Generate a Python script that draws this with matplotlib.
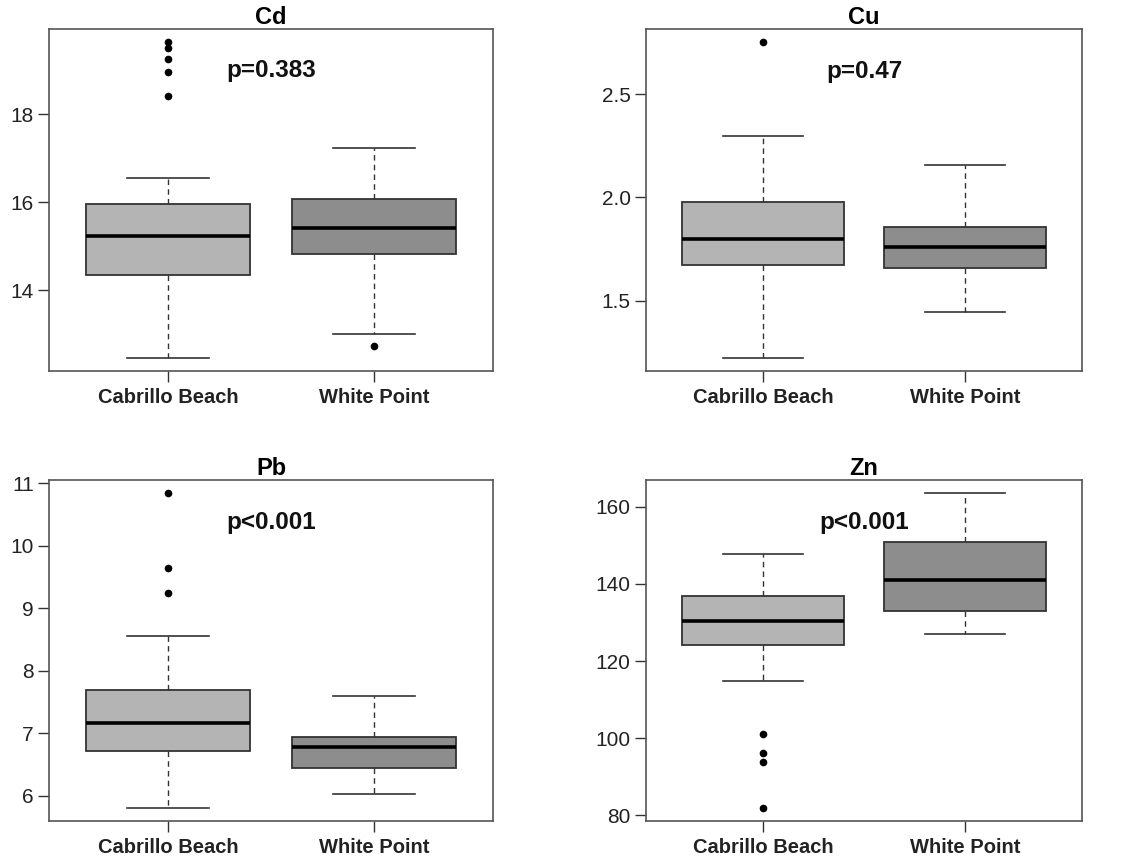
import matplotlib
matplotlib.use("Agg")
import matplotlib.pyplot as plt

plt.rcParams['font.family'] = ['Liberation Sans', 'DejaVu Sans']

groups = ["Cabrillo Beach", "White Point"]

# summary stats per metal: [whislo, q1, med, q3, whishi], outliers
cd_cab = [12.45, 14.35, 15.23, 15.95, 16.55]
cd_cab_out = [18.42, 18.95, 19.25, 19.5, 19.65]
cd_wp = [13.0, 14.82, 15.42, 16.07, 17.23]
cd_wp_out = [12.72]

cu_cab = [1.221, 1.674, 1.797, 1.977, 2.297]
cu_cab_out = [2.754]
cu_wp = [1.445, 1.658, 1.760, 1.859, 2.159]
cu_wp_out = []

pb_cab = [5.80, 6.72, 7.17, 7.70, 8.55]
pb_cab_out = [9.24, 9.64, 10.85]
pb_wp = [6.03, 6.45, 6.785, 6.94, 7.60]
pb_wp_out = []

zn_cab = [114.8, 124.2, 130.4, 136.9, 147.9]
zn_cab_out = [81.8, 93.9, 96.1, 101.1]
zn_wp = [127.0, 132.95, 141.0, 150.8, 163.7]
zn_wp_out = []

titles = ["Cd", "Cu", "Pb", "Zn"]
p_labels = ["p=0.383", "p=0.47", "p<0.001", "p<0.001"]
p_y = [19.0, 2.61, 10.37, 155.9]
yticks = [[14, 16, 18], [1.5, 2.0, 2.5], [6, 7, 8, 9, 10, 11], [80, 100, 120, 140, 160]]
ytick_labels = [["14", "16", "18"], ["1.5", "2.0", "2.5"],
                ["6", "7", "8", "9", "10", "11"], ["80", "100", "120", "140", "160"]]

data = [
    [(cd_cab, cd_cab_out), (cd_wp, cd_wp_out)],
    [(cu_cab, cu_cab_out), (cu_wp, cu_wp_out)],
    [(pb_cab, pb_cab_out), (pb_wp, pb_wp_out)],
    [(zn_cab, zn_cab_out), (zn_wp, zn_wp_out)],
]

box_colors = ["#b4b4b4", "#8d8d8d"]

W, H = 1131, 858
fig = plt.figure(figsize=(W / 100, H / 100), dpi=100)

rects = [
    (49, 29, 493, 371),
    (646, 29, 1082, 371),
    (49, 480, 493, 821),
    (646, 480, 1082, 821),
]

edge = "#333333"
for i, (x0, y0, x1, y1) in enumerate(rects):
    ax = fig.add_axes([x0 / W, 1 - y1 / H, (x1 - x0) / W, (y1 - y0) / H])
    stats = []
    allv = []
    for (s, out), lab in zip(data[i], groups):
        stats.append(dict(whislo=s[0], q1=s[1], med=s[2], q3=s[3], whishi=s[4],
                          fliers=out, label=lab))
        allv += s + out
    bp = ax.bxp(stats, positions=[1, 2], widths=0.8, capwidths=0.4,
                patch_artist=True, showfliers=True,
                boxprops=dict(edgecolor=edge, linewidth=1.3),
                medianprops=dict(color="black", linewidth=2.6, solid_capstyle="butt"),
                whiskerprops=dict(color=edge, linewidth=1.0, linestyle=(0, (4, 3))),
                capprops=dict(color=edge, linewidth=1.2),
                flierprops=dict(marker="o", markerfacecolor="black",
                                markeredgecolor="black", markersize=4.5, linestyle="none"))
    for patch, c in zip(bp["boxes"], box_colors):
        patch.set_facecolor(c)
    lo, hi = min(allv), max(allv)
    r = hi - lo
    ax.set_ylim(lo - 0.04 * r, hi + 0.04 * r)
    ax.set_xlim(0.42, 2.58)
    ax.set_yticks(yticks[i])
    ax.set_yticklabels(ytick_labels[i], fontsize=15, color="#222222")
    ax.set_xticks([1, 2])
    ax.set_xticklabels(groups, fontsize=14.5, fontweight="bold", color="#222222")
    ax.tick_params(direction="out", length=8, width=1.0, color="#333333", pad=3)
    ax.tick_params(axis="x", pad=4)
    for sp in ax.spines.values():
        sp.set_color("#555555")
        sp.set_linewidth(1.2)
    ax.set_title(titles[i], fontsize=17, fontweight="bold", pad=2)
    ax.text(1.5, p_y[i], p_labels[i], ha="center", va="center",
            fontsize=17.5, fontweight="bold", color="#111111")

fig.savefig("out.png", dpi=100)
